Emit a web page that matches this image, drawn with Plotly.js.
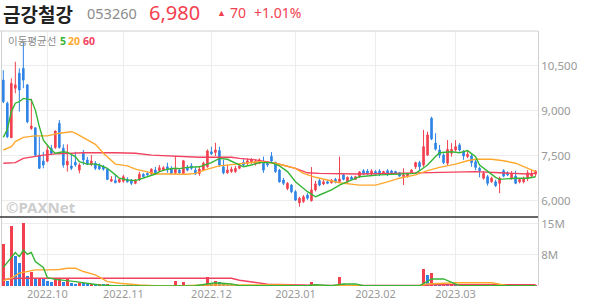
<!DOCTYPE html>
<html><head><meta charset="utf-8">
<script src="https://cdn.plot.ly/plotly-3.0.1.min.js"></script>
<style>html,body{margin:0;padding:0;background:#fff;}#chart{width:594px;height:304px;}</style>
</head><body><div id="chart"></div>
<script>
const dates = ["2022-09-16","2022-09-19","2022-09-20","2022-09-21","2022-09-22","2022-09-23","2022-09-26","2022-09-27","2022-09-28","2022-09-29","2022-09-30",
"2022-10-04","2022-10-05","2022-10-06","2022-10-07","2022-10-11","2022-10-12","2022-10-13","2022-10-14","2022-10-17","2022-10-18","2022-10-19","2022-10-20","2022-10-21","2022-10-24","2022-10-25","2022-10-26","2022-10-27","2022-10-28","2022-10-31",
"2022-11-01","2022-11-02","2022-11-03","2022-11-04","2022-11-07","2022-11-08","2022-11-09","2022-11-10","2022-11-11","2022-11-14","2022-11-15","2022-11-16","2022-11-17","2022-11-18","2022-11-21","2022-11-22","2022-11-23","2022-11-24","2022-11-25","2022-11-28","2022-11-29","2022-11-30",
"2022-12-01","2022-12-02","2022-12-05","2022-12-06","2022-12-07","2022-12-08","2022-12-09","2022-12-12","2022-12-13","2022-12-14","2022-12-15","2022-12-16","2022-12-19","2022-12-20","2022-12-21","2022-12-22","2022-12-23","2022-12-26","2022-12-27","2022-12-28","2022-12-29",
"2023-01-02","2023-01-03","2023-01-04","2023-01-05","2023-01-06","2023-01-09","2023-01-10","2023-01-11","2023-01-12","2023-01-13","2023-01-16","2023-01-17","2023-01-18","2023-01-19","2023-01-20","2023-01-25","2023-01-26","2023-01-27","2023-01-30","2023-01-31",
"2023-02-01","2023-02-02","2023-02-03","2023-02-06","2023-02-07","2023-02-08","2023-02-09","2023-02-10","2023-02-13","2023-02-14","2023-02-15","2023-02-16","2023-02-17","2023-02-20","2023-02-21","2023-02-22","2023-02-23","2023-02-24","2023-02-27","2023-02-28",
"2023-03-02","2023-03-03","2023-03-06","2023-03-07","2023-03-08","2023-03-09","2023-03-10","2023-03-13","2023-03-14","2023-03-15","2023-03-16","2023-03-17","2023-03-20","2023-03-21","2023-03-22","2023-03-23","2023-03-24","2023-03-27","2023-03-28","2023-03-29","2023-03-30"];

const open = [10020,9250,8100,9750,10250,10410,9860,8410,8430,7520,7320,7320,7750,7770,8580,7750,7190,7160,7280,7020,7580,7360,7210,7250,7160,7130,7050,6650,6670,6620,
6650,6710,6690,6580,6690,6880,6910,6890,7020,7000,7020,7130,7080,6930,7020,6910,7110,7160,7020,6910,7020,7130,
7630,7610,7670,7130,6930,6970,6970,7080,7270,7250,7270,7220,7250,7250,7250,7480,7280,7020,6690,6410,6520,
6300,5930,5970,6190,6000,6360,6670,6560,6630,6600,6710,6640,6860,6630,6780,6710,6800,7000,6990,6890,
6970,6990,6900,7000,6990,6970,6930,6800,6800,6930,7130,7270,7190,7520,8750,7920,7690,7520,7250,7580,
7690,7860,7630,7470,7490,7300,7080,6750,6800,6630,6630,6580,7000,6930,6750,6820,6630,6630,6750,6820,6890];
const high = [10350,9300,10080,10630,10410,11260,9890,9400,8450,8130,7630,7860,7860,8340,8690,7880,7880,7520,7630,7250,7690,7460,7520,7320,7250,7190,7080,6820,6860,6750,
6860,6780,6720,6720,6970,6920,6950,7080,7130,7190,7150,7270,7150,7490,7080,7360,7190,7250,7130,7160,7300,7710,
7800,7930,7800,7360,7190,7130,7160,7210,7380,7410,7420,7380,7410,7470,7320,7620,7300,7060,6760,6620,6550,
6350,6130,6190,6250,7120,6660,6720,6690,6680,6720,6760,7470,6890,6810,6830,6830,6980,7050,7050,7050,
7020,7050,7000,7050,7030,7000,6960,7080,6930,7050,7300,7330,8360,8300,8800,8250,7860,7580,8020,7920,
8020,7920,7690,7650,7560,7380,7130,6990,6860,6800,6700,6800,7050,6980,6990,7000,6750,6800,7020,7020,7020];
const low = [9250,8090,8090,9580,8970,9750,8580,8360,7470,7060,7080,7280,7520,7730,7740,7100,6970,7020,7130,6910,7190,7190,7150,7020,7020,7000,6690,6630,6580,6600,
6600,6600,6520,6550,6660,6780,6830,6860,6880,6960,7000,6930,6880,6880,6900,6890,6980,7020,6860,6830,6990,7100,
7520,7490,7130,6880,6900,6930,6930,7050,7150,7190,7230,7170,7220,6930,7130,7300,6930,6600,6520,6350,6250,
5990,5800,5930,6030,5970,6310,6480,6520,6550,6570,6580,6610,6680,6600,6690,6690,6760,6860,6860,6840,
6860,6820,6870,6820,6860,6860,6800,6520,6780,6900,7060,6990,7130,7490,8020,7670,7420,7220,7190,7470,
7640,7640,7360,7420,7130,7010,6780,6700,6500,6600,6460,6250,6780,6820,6700,6550,6580,6580,6650,6760,6800];
const close = [9300,8130,9910,9860,9690,10020,8630,8490,7520,7080,7190,7690,7580,8320,7770,7190,7320,7080,7190,7190,7360,7210,7320,7080,7060,7050,6710,6710,6600,6710,
6800,6630,6580,6690,6880,6800,6860,7050,6930,7100,7100,7020,6910,7050,6930,7330,7020,7080,6890,7050,7250,7660,
7560,7690,7190,6930,7020,7050,7080,7160,7190,7330,7360,7300,7360,7020,7190,7320,6970,6630,6580,6580,6300,
6020,6080,6130,6080,6360,6560,6520,6630,6580,6690,6620,6720,6710,6780,6710,6800,6960,6890,6890,6990,
6890,6890,6970,6910,6890,6890,6820,6860,6890,7020,7270,7130,7800,8190,8060,7720,7520,7270,7710,7710,
7800,7690,7490,7550,7270,7110,7000,6910,6580,6750,6500,6750,6820,6860,6910,6580,6710,6750,6930,6910,6980];
const volume = [10100000,1300000,14500000,7300000,5500000,15300000,2500000,3500000,1600000,1700000,1600000,1300000,1050000,2000000,2050000,900000,1900000,800000,600000,700000,650000,500000,600000,450000,500000,400000,550000,300000,350000,200000,
250000,200000,220000,180000,300000,150000,120000,200000,150000,180000,150000,200000,180000,1300000,300000,1000000,300000,250000,200000,300000,500000,2250000,
600000,1300000,1000000,500000,300000,250000,200000,220000,200000,250000,200000,180000,220000,300000,200000,250000,300000,350000,250000,300000,250000,
300000,350000,300000,200000,1050000,400000,300000,250000,200000,220000,180000,2250000,400000,350000,300000,200000,250000,150000,120000,150000,
120000,140000,100000,120000,100000,110000,100000,200000,120000,150000,200000,180000,4100000,2700000,3200000,500000,350000,400000,300000,350000,
300000,320000,250000,300000,280000,300000,250000,200000,220000,150000,180000,200000,150000,120000,140000,120000,100000,120000,150000,120000,140000];

// moving averages (index into dates, value)
const ma5Idx  = [0,1,2,3,4,5,7,8,9,10,12,13,15,16,18,19,21,23,24,26,28,29,31,33,34,36,38,39,41,43,44,46,49,52,54,56,58,60,62,64,67,69,71,73,76,78,79,82,84,87,89,94,99,103,104,106,108,109,112,114,116,118,119,121,123,124,128,131,133];
const ma5Val  = [8110,8380,8970,9250,9300,9410,9360,9020,8470,8020,7690,7580,7630,7610,7470,7300,7220,7220,7190,7080,6860,6750,6690,6670,6710,6800,6890,6970,7050,7080,7070,7110,7130,7270,7410,7380,7250,7130,7190,7270,7270,7160,6970,6630,6300,6130,6190,6360,6520,6690,6800,6860,6890,6910,7000,7190,7470,7600,7630,7600,7670,7470,7190,6970,6780,6710,6750,6750,6800];
const ma20Idx = [0,2,3,5,8,11,14,17,18,20,22,23,25,27,28,31,33,36,38,41,43,46,48,51,54,58,61,64,68,70,73,75,78,81,84,89,93,96,99,103,106,109,113,116,118,122,125,128,131,133];
const ma20Val = [7690,7800,7970,8110,8160,8160,8250,8300,8250,8110,7970,7880,7580,7360,7220,7160,7050,6960,6890,6890,6890,6880,6910,7050,7160,7220,7270,7300,7250,7190,7080,6910,6780,6690,6600,6520,6520,6630,6750,6860,7000,7110,7220,7330,7380,7380,7330,7250,7080,6970];
const ma60Idx = [0,3,5,8,10,13,16,20,28,33,37,41,45,49,57,59,63,68,73,76,79,84,89,98,106,113,118,124,131,133];
const ma60Val = [7250,7270,7410,7490,7520,7560,7580,7600,7600,7580,7520,7490,7470,7450,7450,7410,7360,7250,7080,6930,6910,6890,6890,6910,6930,6970,6970,6930,6890,6910];

const vma5Idx  = [0,3,4,5,6,7,8,10,11,13,18,24,29,48,51,53,57,59,76,78,82,85,88,90,104,107,110,112,114,133];
const vma5Val  = [4500000,8100000,7100000,8700000,7700000,8100000,5900000,4500000,2000000,1600000,1050000,250000,20000,50000,500000,800000,500000,100000,50000,300000,100000,500000,500000,50000,50000,1700000,1700000,900000,100000,50000];
const vma20Idx = [0,2,4,6,8,11,14,16,18,20,23,26,29,34,38,45,50,70,74,104,106,113,122,126,133];
const vma20Val = [1300000,1900000,3100000,3500000,3900000,3900000,4000000,4300000,4300000,3500000,2700000,1050000,650000,250000,50000,100000,250000,250000,50000,50000,500000,800000,800000,50000,50000];
const vma60Idx = [0,2,4,57,59,66,74,80,105,107,133];
const vma60Val = [1600000,1700000,1860000,1860000,1400000,450000,240000,150000,150000,300000,300000];

const tickDates  = ["2022-10-04","2022-11-01","2022-12-01","2023-01-02","2023-02-01","2023-03-02"];
const tickLabels = ["2022.10","2022.11","2022.12","2023.01","2023.02","2023.03"];
const priceTicks = [6000,7500,9000,10500];
const priceTickText = ["6,000","7,500","9,000","10,500"];
const volTicks = [7500000,15000000];
const volTickText = ["8M","15M"];

const RED = '#f2404f', BLUE = '#2f84e6';
const GREEN = '#35b535', ORANGE = '#ffa82e', PINK = '#f2415e';

const volColors = volume.map((v,i)=> (i===0 || v > volume[i-1]) ? RED : BLUE);
const pick = idx => idx.map(i => dates[i]);

const traces = [
 {type:'candlestick', x:dates, open:open, high:high, low:low, close:close, xaxis:'x', yaxis:'y',
  increasing:{line:{color:RED,width:1}, fillcolor:RED},
  decreasing:{line:{color:BLUE,width:1}, fillcolor:BLUE},
  whiskerwidth:0, hoverinfo:'skip'},
 {type:'scatter', mode:'lines', x:pick(ma60Idx), y:ma60Val, line:{color:PINK,width:1.4}, yaxis:'y', hoverinfo:'skip'},
 {type:'scatter', mode:'lines', x:pick(ma20Idx), y:ma20Val, line:{color:ORANGE,width:1.4}, yaxis:'y', hoverinfo:'skip'},
 {type:'scatter', mode:'lines', x:pick(ma5Idx), y:ma5Val, line:{color:GREEN,width:1.4}, yaxis:'y', hoverinfo:'skip'},
 {type:'bar', x:dates, y:volume, marker:{color:volColors, line:{width:0}}, width:0.66, yaxis:'y2', hoverinfo:'skip'},
 {type:'scatter', mode:'lines', x:pick(vma60Idx), y:vma60Val, line:{color:PINK,width:1.4}, yaxis:'y2', hoverinfo:'skip'},
 {type:'scatter', mode:'lines', x:pick(vma20Idx), y:vma20Val, line:{color:ORANGE,width:1.4}, yaxis:'y2', hoverinfo:'skip'},
 {type:'scatter', mode:'lines', x:pick(vma5Idx), y:vma5Val, line:{color:GREEN,width:1.4}, yaxis:'y2', hoverinfo:'skip'}
];

const W = 535.7, H = 255;
const xp = px => (px - 2) / W;
const yp = py => (286 - py) / H;
const numFont = 'Noto Sans, Roboto, sans-serif';
const krFont = 'Noto Sans CJK KR, Noto Sans, sans-serif';
function ann(text, px, py, size, color, family){
  return {text:text, x:xp(px), y:yp(py), xref:'paper', yref:'paper', xanchor:'left', yanchor:'middle',
          showarrow:false, borderpad:0, font:{size:size, color:color, family:family||numFont}};
}

const layout = {
  width:594, height:304,
  margin:{l:2, r:56, t:31, b:18, pad:0},
  paper_bgcolor:'#ffffff', plot_bgcolor:'#ffffff',
  showlegend:false, boxgap:0.45, bargap:0,
  xaxis:{type:'category', range:[-0.33,133.6], rangeslider:{visible:false}, anchor:'y2',
         tickmode:'array', tickvals:tickDates, ticktext:tickLabels, ticks:'', showgrid:true,
         gridcolor:'#ececec', gridwidth:1, showline:false, zeroline:false,
         tickfont:{family:numFont, size:11, color:'#9a9a9a'}, fixedrange:true},
  yaxis:{domain:[0.2706,1], range:[5457,11656], side:'right', tickmode:'array', tickvals:priceTicks, ticktext:priceTickText,
         ticks:'', showgrid:true, gridcolor:'#ececec', gridwidth:1, zeroline:false, showline:true, linecolor:'#d0d0d0', linewidth:1, mirror:true,
         tickfont:{family:numFont, size:11.5, color:'#9a9a9a'}},
  yaxis2:{domain:[0,0.2706], range:[0,16690000], side:'right', tickmode:'array', tickvals:volTicks, ticktext:volTickText,
         ticks:'', showgrid:true, gridcolor:'#ececec', gridwidth:1, zeroline:false, showline:true, linecolor:'#d0d0d0', linewidth:1, mirror:true,
         tickfont:{family:numFont, size:11.5, color:'#9a9a9a'}},
  shapes:[
    {type:'line', xref:'paper', yref:'paper', x0:-0.004, x1:1, y0:1, y1:1, line:{color:'#d0d0d0', width:1}},
    {type:'line', xref:'paper', yref:'paper', x0:-0.004, x1:1, y0:0.2706, y1:0.2706, line:{color:'#333333', width:1.5}}
  ],
  annotations:[
    ann('<b>금강철강</b>', 2, 13, 19, '#222222', krFont),
    ann('053260', 86, 13, 14.5, '#8c8c8c'),
    ann('6,980', 148, 12, 20, RED),
    ann('▲', 216, 12.5, 9, RED),
    ann('70', 229, 12.5, 14, RED),
    ann('+1.01%', 253, 12.5, 14, RED),
    ann('이동평균선', 7, 41, 10.5, '#8a8a8a', krFont),
    ann('<b>5</b>', 59, 41, 10.5, GREEN),
    ann('<b>20</b>', 67, 41, 10.5, ORANGE),
    ann('<b>60</b>', 82, 41, 10.5, PINK),
    ann('<b>©PAXNet</b>', 5, 207, 15, '#cdcdcd')
  ]
};

Plotly.newPlot('chart', traces, layout, {staticPlot:true, displayModeBar:false});
</script>
</body></html>
